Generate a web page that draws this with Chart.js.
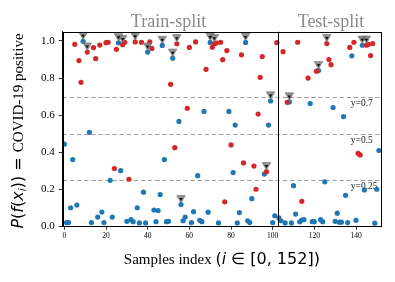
<!DOCTYPE html>
<html><head><meta charset="utf-8">
<script src="https://cdn.jsdelivr.net/npm/chart.js@4"></script>
<style>html,body{margin:0;padding:0;background:#fff}#wrap{width:395px;height:282px}</style>
</head><body><div id="wrap"><canvas id="c" width="395" height="282"></canvas></div>
<script>
// ---- data ----
const blueIdx = [0,1,2,3,4,6,9,12,13,16,18,19,22,23,26,27,30,32,33,35,36,38,39,40,43,44,45,46,47,48,49,50,52,55,56,57,58,61,62,64,65,66,67,69,70,74,79,81,82,83,84,87,88,89,90,96,98,99,100,101,
  103,104,106,108,109,110,111,113,114,115,118,119,120,122,123,124,125,129,130,131,132,133,134,135,136,138,140,143,144,149,150,151];
const blueVal = [0.443,0.02,0.02,0.10,0.36,0.115,0.998,0.507,0.02,0.05,0.077,0.02,0.248,0.05,0.99,0.30,0.027,0.036,0.025,0.10,0.018,0.184,0.018,0.94,0.088,0.025,0.085,0.171,0.976,0.36,0.025,0.027,0.907,0.566,0.117,0.03,0.05,0.02,0.079,0.273,0.032,0.025,0.62,0.076,0.992,0.018,0.62,0.29,0.546,0.018,0.074,0.992,0.03,0.02,0.149,0.282,0.546,0.676,0.02,0.057,
  0.045,0.03,0.018,0.671,0.018,0.219,0.066,0.024,0.034,0.036,0.662,0.025,0.025,0.84,0.036,0.025,0.24,0.641,0.027,0.071,0.022,0.022,0.592,0.167,0.02,0.92,0.032,0.977,0.196,0.017,0.2,0.409];
const redIdx = [5,7,8,11,14,15,17,20,21,24,25,28,29,31,34,37,41,42,51,53,54,59,60,63,68,71,72,73,75,76,77,78,80,85,86,91,92,93,94,95,97,102,
  105,107,112,114,117,121,126,127,128,137,139,141,142,145,146,147,148];
const redVal = [0.982,0.894,0.777,0.94,0.964,0.905,0.978,0.991,0.993,0.312,0.955,0.98,0.993,0.254,0.995,0.993,0.995,0.96,0.766,0.424,0.985,0.637,0.965,0.995,0.847,0.966,0.985,0.989,0.993,0.899,0.132,0.948,0.439,0.925,0.342,0.325,0.2,0.606,0.804,0.916,0.295,0.991,
  0.942,0.669,0.993,0.135,0.8,0.837,0.986,0.9,0.872,0.965,0.993,0.394,0.385,0.977,0.982,0.921,0.986];
const flaggedIdx = [9,11,26,28,34,40,47,52,54,56,70,72,87,97,99,108,122,126,143,145];
const thresholds = [0.7, 0.5, 0.25];
const thresholdLabels = ['y=0.7', 'y=0.5', 'y=0.25'];
const xTicks = [0,20,40,60,80,100,120,140];
const yTicks = [0,0.2,0.4,0.6,0.8,1.0];
const splitBoundary = 102.5;
const splitTitles = ['Train-split', 'Test-split'];
const splitCenters = [50, 128];

function valueAt(i){
  const r = redIdx.indexOf(i);
  if (r >= 0) return redVal[r];
  return blueVal[blueIdx.indexOf(i)];
}
const flagOffset = 0.036;

const SERIF = '"Liberation Serif", "Times New Roman", serif';
const MATH = '"DejaVu Sans", sans-serif';

const overlay = {
  id: 'overlay',
  beforeDatasetsDraw(chart){
    const {ctx, chartArea:a, scales:{x, y}} = chart;
    ctx.save();
    ctx.strokeStyle = '#a0a0a0';
    ctx.lineWidth = 1.2;
    ctx.setLineDash([4.5, 2.6]);
    thresholds.forEach((t, k) => {
      const py = Math.round(y.getPixelForValue(t)) + 0.5;
      ctx.beginPath(); ctx.moveTo(a.left, py); ctx.lineTo(a.right, py); ctx.stroke();
    });
    ctx.setLineDash([]);
    ctx.fillStyle = '#222';
    ctx.font = '9.5px ' + SERIF;
    ctx.textAlign = 'left'; ctx.textBaseline = 'middle';
    thresholds.forEach((t, k) => {
      const py = y.getPixelForValue(t);
      ctx.fillText(thresholdLabels[k], x.getPixelForValue(137.5), py + 6.5);
    });
    ctx.restore();
  },
  afterDatasetsDraw(chart){
    const {ctx, chartArea:a, scales:{x, y}} = chart;
    ctx.save();
    // split line
    ctx.strokeStyle = '#000'; ctx.lineWidth = 1;
    const sx = Math.round(x.getPixelForValue(splitBoundary)) + 0.5;
    ctx.beginPath(); ctx.moveTo(sx, a.top); ctx.lineTo(sx, a.bottom); ctx.stroke();
    // frame
    ctx.strokeRect(Math.round(a.left)+0.5, Math.round(a.top)+0.5, Math.round(a.right)-Math.round(a.left), Math.round(a.bottom)-Math.round(a.top));
    // split titles
    ctx.fillStyle = '#8a8a8a';
    ctx.font = '18px ' + SERIF;
    ctx.textAlign = 'center'; ctx.textBaseline = 'alphabetic';
    splitTitles.forEach((t, k) => ctx.fillText(t, x.getPixelForValue(splitCenters[k]), 26.7));
    // x label
    ctx.fillStyle = '#000';
    const xparts = [
      ['Samples index ', '15px ' + SERIF, 0],
      ['(', '16px ' + MATH, 0],
      ['i', 'italic 16px ' + MATH, 0],
      [' \u2208 [0, 152])', '16px ' + MATH, 0]
    ];
    drawParts(ctx, xparts, (a.left + a.right)/2, 264, false);
    // y label
    ctx.save();
    ctx.translate(23, 131);
    ctx.rotate(-Math.PI/2);
    const yparts = [
      ['P', 'italic 16px ' + MATH, 0],
      ['(', '16px ' + MATH, 0],
      ['f', 'italic 16px ' + MATH, 0],
      ['(', '16px ' + MATH, 0],
      ['x', 'italic 16px ' + MATH, 0],
      ['i', 'italic 11px ' + MATH, 3],
      ['))', '16px ' + MATH, 0],
      [' = ', '16px ' + MATH, 0],
      ['COVID-19 positive', '15px ' + SERIF, 0]
    ];
    drawParts(ctx, yparts, 0, 0, false);
    ctx.restore();
    ctx.restore();
  }
};

function drawParts(ctx, parts, cx, baseY){
  let total = 0;
  parts.forEach(p => { ctx.font = p[1]; total += ctx.measureText(p[0]).width; });
  let px = cx - total/2;
  ctx.textAlign = 'left'; ctx.textBaseline = 'alphabetic';
  parts.forEach(p => { ctx.font = p[1]; ctx.fillText(p[0], px, baseY + p[2]); px += ctx.measureText(p[0]).width; });
}

const tickFontX = {family: SERIF, size: 7.5};
const tickFontY = {family: SERIF, size: 11};

new Chart(document.getElementById('c'), {
  type: 'scatter',
  data: {
    datasets: [
      { data: flaggedIdx.map(i => ({x: i, y: valueAt(i) + flagOffset - 0.006})), pointStyle: 'triangle', rotation: 180,
        radius: 2, backgroundColor: '#111', borderWidth: 0 },
      { data: flaggedIdx.map(i => ({x: i, y: valueAt(i) + flagOffset})), pointStyle: 'triangle', rotation: 180,
        radius: 5, backgroundColor: 'rgba(125,125,125,0.85)', borderColor: 'rgba(110,110,110,0.9)', borderWidth: 0.6 },
      { data: redIdx.map((v, k) => ({x: v, y: redVal[k]})), backgroundColor: '#d62728', borderWidth: 0, radius: 2.6 },
      { data: blueIdx.map((v, k) => ({x: v, y: blueVal[k]})), backgroundColor: '#1f77b4', borderWidth: 0, radius: 2.6 }
    ]
  },
  options: {
    responsive: false, animation: false, devicePixelRatio: 1,
    layout: {padding: {top: 31.7, right: 14, left: 0, bottom: 0}},
    plugins: {legend: {display: false}, tooltip: {enabled: false}},
    elements: {point: {hoverRadius: 2.6}},
    scales: {
      x: {
        type: 'linear', min: -0.8, max: 152,
        afterBuildTicks: s => { s.ticks = xTicks.map(v => ({value: v})); },
        afterFit: s => { s.height = 55.7; },
        ticks: {font: tickFontX, color: '#000', padding: 2, maxRotation: 0, autoSkip: false},
        grid: {display: true, drawOnChartArea: false, drawTicks: true, tickLength: 3.5, color: '#000', tickWidth: 0.8},
        border: {display: true, color: '#000', width: 1}
      },
      y: {
        type: 'linear', min: 0, max: 1.05,
        afterBuildTicks: s => { s.ticks = yTicks.map(v => ({value: v})); },
        afterFit: s => { s.width = 62.7; },
        ticks: {font: tickFontY, color: '#000', padding: 4, callback: v => Number(v).toFixed(1)},
        grid: {display: true, drawOnChartArea: false, drawTicks: true, tickLength: 4, color: '#000', tickWidth: 0.8},
        border: {display: true, color: '#000', width: 1}
      }
    }
  },
  plugins: [overlay]
});
</script>
</body></html>
